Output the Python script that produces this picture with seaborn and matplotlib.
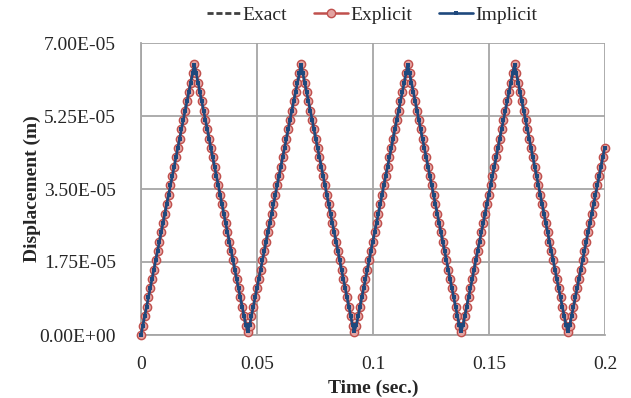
import numpy as np
import matplotlib
matplotlib.use("Agg")
import matplotlib.pyplot as plt
import seaborn as sns
from matplotlib.ticker import FuncFormatter

# ---------------- data ----------------
# Exact solution: vertices of the triangular response (time in s, displacement in micrometres)
exact_time = [0.0, 0.023, 0.046, 0.069, 0.092, 0.115, 0.138, 0.161, 0.184, 0.2]
exact_um = [0.0, 65.0, 0.0, 65.0, 0.0, 65.0, 0.0, 65.0, 0.0, 45.2]

# Numerical solutions, sampled with a constant time step
time_step = 0.046 / 58

explicit_um = [
    0.0, 2.2, 4.5, 6.7, 9.0, 11.2, 13.4, 15.7, 17.9, 20.2,
    22.4, 24.7, 26.9, 29.1, 31.4, 33.6, 35.9, 38.1, 40.3, 42.6,
    44.8, 47.1, 49.3, 51.6, 53.8, 56.0, 58.3, 60.5, 62.8, 65.0,
    62.8, 60.5, 58.3, 56.0, 53.8, 51.6, 49.3, 47.1, 44.8, 42.6,
    40.3, 38.1, 35.9, 33.6, 31.4, 29.1, 26.9, 24.7, 22.4, 20.2,
    17.9, 15.7, 13.4, 11.2, 9.0, 6.7, 4.5, 2.2,
    0.8, 2.2, 4.5, 6.7, 9.0, 11.2, 13.4, 15.7, 17.9, 20.2,
    22.4, 24.7, 26.9, 29.1, 31.4, 33.6, 35.9, 38.1, 40.3, 42.6,
    44.8, 47.1, 49.3, 51.6, 53.8, 56.0, 58.3, 60.5, 62.8, 65.0,
    62.8, 60.5, 58.3, 56.0, 53.8, 51.6, 49.3, 47.1, 44.8, 42.6,
    40.3, 38.1, 35.9, 33.6, 31.4, 29.1, 26.9, 24.7, 22.4, 20.2,
    17.9, 15.7, 13.4, 11.2, 9.0, 6.7, 4.5, 2.2,
    0.8, 2.2, 4.5, 6.7, 9.0, 11.2, 13.4, 15.7, 17.9, 20.2,
    22.4, 24.7, 26.9, 29.1, 31.4, 33.6, 35.9, 38.1, 40.3, 42.6,
    44.8, 47.1, 49.3, 51.6, 53.8, 56.0, 58.3, 60.5, 62.8, 65.0,
    62.8, 60.5, 58.3, 56.0, 53.8, 51.6, 49.3, 47.1, 44.8, 42.6,
    40.3, 38.1, 35.9, 33.6, 31.4, 29.1, 26.9, 24.7, 22.4, 20.2,
    17.9, 15.7, 13.4, 11.2, 9.0, 6.7, 4.5, 2.2,
    0.8, 2.2, 4.5, 6.7, 9.0, 11.2, 13.4, 15.7, 17.9, 20.2,
    22.4, 24.7, 26.9, 29.1, 31.4, 33.6, 35.9, 38.1, 40.3, 42.6,
    44.8, 47.1, 49.3, 51.6, 53.8, 56.0, 58.3, 60.5, 62.8, 65.0,
    62.8, 60.5, 58.3, 56.0, 53.8, 51.6, 49.3, 47.1, 44.8, 42.6,
    40.3, 38.1, 35.9, 33.6, 31.4, 29.1, 26.9, 24.7, 22.4, 20.2,
    17.9, 15.7, 13.4, 11.2, 9.0, 6.7, 4.5, 2.2,
    0.8, 2.2, 4.5, 6.7, 9.0, 11.2, 13.4, 15.7, 17.9, 20.2,
    22.4, 24.7, 26.9, 29.1, 31.4, 33.6, 35.9, 38.1, 40.3, 42.6,
    44.8,
]

implicit_um = [
    0.0, 2.2, 4.5, 6.7, 9.0, 11.2, 13.4, 15.7, 17.9, 20.2,
    22.4, 24.7, 26.9, 29.1, 31.4, 33.6, 35.9, 38.1, 40.3, 42.6,
    44.8, 47.1, 49.3, 51.6, 53.8, 56.0, 58.3, 60.5, 62.7, 64.8,
    62.7, 60.5, 58.3, 56.0, 53.8, 51.6, 49.3, 47.1, 44.8, 42.6,
    40.3, 38.1, 35.9, 33.6, 31.4, 29.1, 26.9, 24.7, 22.4, 20.2,
    17.9, 15.7, 13.4, 11.2, 9.0, 6.7, 4.5, 2.3,
    1.0, 2.3, 4.5, 6.7, 9.0, 11.2, 13.4, 15.7, 17.9, 20.2,
    22.4, 24.7, 26.9, 29.1, 31.4, 33.6, 35.9, 38.1, 40.3, 42.6,
    44.8, 47.1, 49.3, 51.6, 53.8, 56.0, 58.3, 60.5, 62.7, 64.8,
    62.7, 60.5, 58.3, 56.0, 53.8, 51.6, 49.3, 47.1, 44.8, 42.6,
    40.3, 38.1, 35.9, 33.6, 31.4, 29.1, 26.9, 24.7, 22.4, 20.2,
    17.9, 15.7, 13.4, 11.2, 9.0, 6.7, 4.5, 2.3,
    1.0, 2.3, 4.5, 6.7, 9.0, 11.2, 13.4, 15.7, 17.9, 20.2,
    22.4, 24.7, 26.9, 29.1, 31.4, 33.6, 35.9, 38.1, 40.3, 42.6,
    44.8, 47.1, 49.3, 51.6, 53.8, 56.0, 58.3, 60.5, 62.7, 64.8,
    62.7, 60.5, 58.3, 56.0, 53.8, 51.6, 49.3, 47.1, 44.8, 42.6,
    40.3, 38.1, 35.9, 33.6, 31.4, 29.1, 26.9, 24.7, 22.4, 20.2,
    17.9, 15.7, 13.4, 11.2, 9.0, 6.7, 4.5, 2.3,
    1.0, 2.3, 4.5, 6.7, 9.0, 11.2, 13.4, 15.7, 17.9, 20.2,
    22.4, 24.7, 26.9, 29.1, 31.4, 33.6, 35.9, 38.1, 40.3, 42.6,
    44.8, 47.1, 49.3, 51.6, 53.8, 56.0, 58.3, 60.5, 62.7, 64.8,
    62.7, 60.5, 58.3, 56.0, 53.8, 51.6, 49.3, 47.1, 44.8, 42.6,
    40.3, 38.1, 35.9, 33.6, 31.4, 29.1, 26.9, 24.7, 22.4, 20.2,
    17.9, 15.7, 13.4, 11.2, 9.0, 6.7, 4.5, 2.3,
    1.0, 2.3, 4.5, 6.7, 9.0, 11.2, 13.4, 15.7, 17.9, 20.2,
    22.4, 24.7, 26.9, 29.1, 31.4, 33.6, 35.9, 38.1, 40.3, 42.6,
    44.8,
]

series_names = ["Exact", "Explicit", "Implicit"]
x_ticks = [0, 0.05, 0.1, 0.15, 0.2]
y_ticks = [0.0, 1.75e-5, 3.5e-5, 5.25e-5, 7.0e-5]

# ---------------- plot ----------------
sns.set_style("white")
plt.rcParams["font.family"] = ["Liberation Serif", "DejaVu Serif"]
plt.rcParams["font.size"] = 14

exact_t = np.array(exact_time)
exact_u = np.array(exact_um) * 1e-6
sample_t = np.arange(len(explicit_um)) * time_step
explicit_u = np.array(explicit_um) * 1e-6
implicit_u = np.array(implicit_um) * 1e-6

fig = plt.figure(figsize=(6.31, 3.98), dpi=100)
ax = fig.add_axes([141 / 631, 1 - 335 / 398, (605 - 141) / 631, (335 - 43) / 398])

grid_c = "#a6a6a6"
ax.set_axisbelow(True)
ax.grid(True, color=grid_c, linewidth=1.3)

sns.lineplot(x=exact_t, y=exact_u, ax=ax, color="#404040", linewidth=2.0,
             linestyle=(0, (2.2, 1.0)), label=series_names[0], clip_on=False,
             zorder=3)
sns.lineplot(x=sample_t, y=explicit_u, ax=ax, color="#c0504d", linewidth=1.8,
             marker="o", markersize=6, markeredgewidth=1.0,
             markerfacecolor="#e3a3a1", markeredgecolor="#c0504d",
             label=series_names[1], clip_on=False, zorder=4)
sns.lineplot(x=sample_t, y=implicit_u, ax=ax, color="#1f497d", linewidth=1.9,
             marker="s", markersize=3.4, markeredgewidth=0,
             markerfacecolor="#1f497d",
             label=series_names[2], clip_on=False, zorder=5)

ax.set_xlim(0, 0.2)
ax.set_ylim(0, 7e-5)
ax.set_xticks(x_ticks)
ax.set_yticks(y_ticks)
ax.xaxis.set_major_formatter(FuncFormatter(lambda v, p: f"{v:g}"))
ax.yaxis.set_major_formatter(FuncFormatter(lambda v, p: f"{v:.2E}"))
ax.tick_params(axis="both", direction="out", length=6, width=1.3,
               color=grid_c, labelsize=14)
ax.tick_params(axis="y", pad=12)
ax.tick_params(axis="x", pad=9)

for side in ["top", "right"]:
    ax.spines[side].set_visible(False)
for side in ["left", "bottom"]:
    ax.spines[side].set_color(grid_c)
    ax.spines[side].set_linewidth(1.3)

ax.set_xlabel("Time (sec.)", fontweight="bold", fontsize=14, labelpad=5)
ax.set_ylabel("Displacement (m)", fontweight="bold", fontsize=14, labelpad=-1)

handles, labels = ax.get_legend_handles_labels()
ax.get_legend().remove()
fig.legend(handles, labels, loc="center", bbox_to_anchor=(372 / 631, 1 - 15 / 398),
           ncol=3, frameon=False, fontsize=14, handlelength=1.75,
           handletextpad=0.1, columnspacing=1.4, borderaxespad=0)

fig.savefig("out.png", dpi=100)
